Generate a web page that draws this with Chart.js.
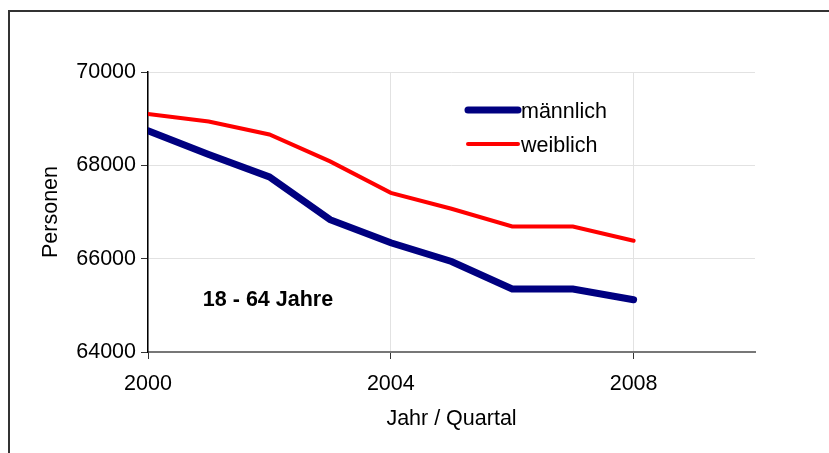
<!DOCTYPE html>
<html>
<head>
<meta charset="utf-8">
<script src="https://cdn.jsdelivr.net/npm/chart.js@4"></script>
<style>
    body { margin: 0; background: #fff; }
    #rahmen { position: absolute; left: 8px; top: 10px; width: 830px; height: 450px; border-top: 2px solid #333; border-left: 2px solid #333; }
    #wrap { position: absolute; left: 0; top: 0; width: 829px; height: 453px; }
</style>
</head>
<body>
<div id="rahmen"></div>
<div id="wrap"><canvas id="personen"></canvas></div>
<script>
// Daten
const jahre = [2000, 2001, 2002, 2003, 2004, 2005, 2006, 2007, 2008];
const maennlich = [68740, 68230, 67750, 66835, 66340, 65940, 65350, 65350, 65120];
const weiblich = [69100, 68940, 68660, 68085, 67410, 67070, 66690, 66690, 66385];
const yTicks = [64000, 66000, 68000, 70000];
const xTicks = [2000, 2004, 2008];

const fontFamily = '"Liberation Sans", Arial, sans-serif';
const fontSize = 21.5;

// Legende und Beschriftung im Diagramm
const innenText = {
    id: 'innenText',
    afterDatasetsDraw(chart) {
        const ctx = chart.ctx;
        ctx.save();
        ctx.font = 'bold ' + fontSize + 'px ' + fontFamily;
        ctx.fillStyle = '#000';
        ctx.textAlign = 'center';
        ctx.textBaseline = 'middle';
        ctx.fillText('18 - 64 Jahre', 268, 300);

        ctx.font = fontSize + 'px ' + fontFamily;
        ctx.textAlign = 'left';
        ctx.lineCap = 'round';
        chart.data.datasets.forEach((ds, i) => {
            const y = 110 + i * 34;
            ctx.strokeStyle = ds.borderColor;
            ctx.lineWidth = ds.borderWidth;
            ctx.beginPath();
            ctx.moveTo(468, y);
            ctx.lineTo(518, y);
            ctx.stroke();
            ctx.fillText(ds.label, 521, y + 2);
        });
        ctx.restore();
    }
};

const ctxPersonen = document.getElementById('personen').getContext('2d');
new Chart(ctxPersonen, {
    type: 'line',
    data: {
        datasets: [{
            label: 'männlich',
            data: jahre.map((j, i) => ({ x: j, y: maennlich[i] })),
            borderColor: '#000080',
            borderWidth: 7,
            pointRadius: 0,
            borderCapStyle: 'round',
            tension: 0
        }, {
            label: 'weiblich',
            data: jahre.map((j, i) => ({ x: j, y: weiblich[i] })),
            borderColor: '#ff0000',
            borderWidth: 4,
            pointRadius: 0,
            borderCapStyle: 'round',
            tension: 0
        }]
    },
    options: {
        responsive: true,
        maintainAspectRatio: false,
        animation: false,
        layout: { padding: { left: 0, top: 72, right: 74, bottom: 0 } },
        plugins: {
            legend: { display: false },
            tooltip: { enabled: false }
        },
        scales: {
            x: {
                type: 'linear',
                min: 2000,
                max: 2010,
                afterBuildTicks: s => { s.ticks = xTicks.map(v => ({ value: v })); },
                afterFit: s => { s.height = 101; },
                ticks: {
                    color: '#000',
                    font: { family: fontFamily, size: fontSize },
                    padding: 12,
                    callback: v => String(v)
                },
                grid: { color: '#e2e2e2', tickColor: '#333', tickLength: 7 },
                border: { color: '#777', width: 2 },
                title: {
                    display: true,
                    text: 'Jahr / Quartal',
                    color: '#000',
                    font: { family: fontFamily, size: fontSize },
                    padding: { top: 4, bottom: 21 }
                }
            },
            y: {
                min: 64000,
                max: 70000,
                afterBuildTicks: s => { s.ticks = yTicks.map(v => ({ value: v })); },
                afterFit: s => { s.width = 148; },
                ticks: {
                    color: '#000',
                    font: { family: fontFamily, size: fontSize },
                    padding: 5,
                    callback: v => String(v)
                },
                grid: { color: '#e2e2e2', tickColor: '#333', tickLength: 7 },
                border: { color: '#000', width: 1.5 },
                title: {
                    display: true,
                    text: 'Personen',
                    color: '#000',
                    font: { family: fontFamily, size: fontSize },
                    padding: { top: 38, bottom: 0 }
                }
            }
        }
    },
    plugins: [innenText]
});
</script>
</body>
</html>
